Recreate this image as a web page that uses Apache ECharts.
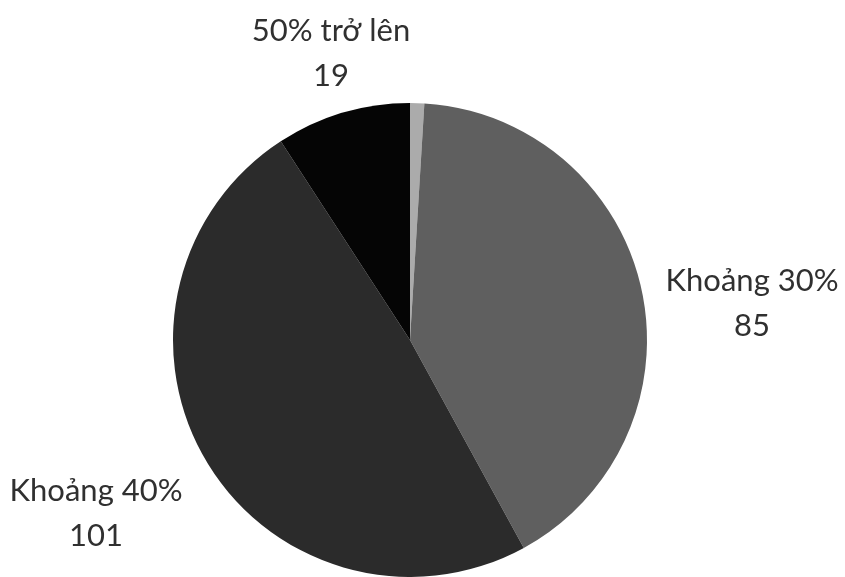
<!DOCTYPE html>
<html>
<head>
<meta charset="utf-8">
<style>
  html, body { margin: 0; padding: 0; background: #fff; }
  #chart { width: 845px; height: 577px; }
</style>
<script src="https://cdn.jsdelivr.net/npm/echarts@6/dist/echarts.min.js"></script>
</head>
<body>
<div id="chart"></div>
<script>
// dữ liệu
const categories = ['Khoảng 20%', 'Khoảng 30%', 'Khoảng 40%', '50% trở lên']
const values = [2, 85, 101, 19]
const showLabel = [false, true, true, true]

const sliceColors = ['#ababab', '#5f5f5f', '#2b2b2b', '#050505']
// vị trí nhãn (tâm chữ)
const labelPos = [null, [752, 303], [96, 513], [331, 53]]

const chart = echarts.init(document.getElementById('chart'))

chart.setOption({
  animation: false,
  series: [{
    type: 'pie',
    center: [410, 340],
    radius: 237,
    startAngle: 90,
    clockwise: true,
    data: categories.map((name, i) => ({
      name,
      value: values[i],
      itemStyle: { color: sliceColors[i] },
      label: { show: showLabel[i] },
    })),
    label: {
      position: 'outside',
      formatter: '{b}\n{c}',
      fontFamily: 'Lato',
      fontSize: 31,
      lineHeight: 45,
      color: '#303030',
      align: 'center',
      overflow: 'none',
    },
    labelLine: { show: false },
    labelLayout(params) {
      const p = labelPos[params.dataIndex]
      if (!p) return {}
      return { x: p[0], y: p[1], align: 'center', verticalAlign: 'middle' }
    },
  }],
})
</script>
</body>
</html>
